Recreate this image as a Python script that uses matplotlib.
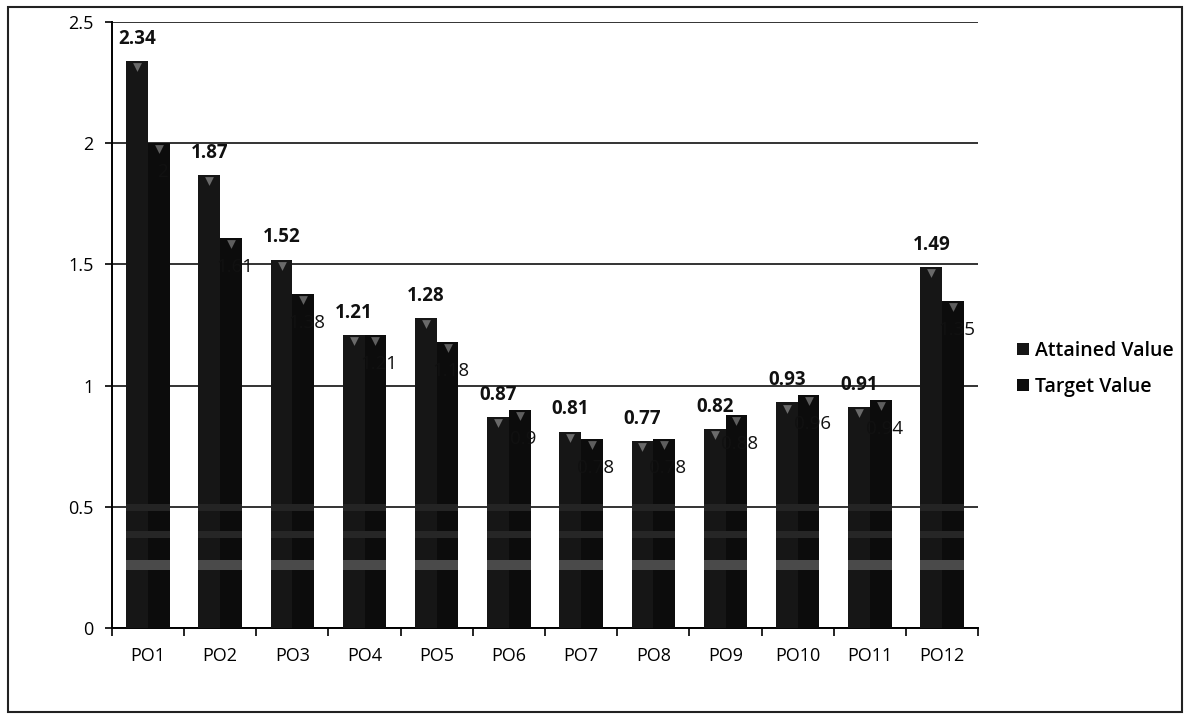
import numpy as np
import matplotlib.pyplot as plt
from matplotlib.patches import Rectangle

categories = ['PO1', 'PO2', 'PO3', 'PO4', 'PO5', 'PO6', 'PO7', 'PO8', 'PO9', 'PO10', 'PO11', 'PO12']
attained = [2.34, 1.87, 1.52, 1.21, 1.28, 0.87, 0.81, 0.77, 0.82, 0.93, 0.91, 1.49]
target = [2, 1.61, 1.38, 1.21, 1.18, 0.9, 0.78, 0.78, 0.88, 0.96, 0.94, 1.35]
target_labels = ['2', '1.61', '1.38', '1.21', '1.18', '0.9', '0.78', '0.78', '0.88', '0.96', '0.94', '1.35']

plt.rcParams['font.family'] = ['Open Sans', 'DejaVu Sans']

fig = plt.figure(figsize=(11.9, 7.19), dpi=100)
ax = fig.add_axes([0.094, 0.127, 0.728, 0.842])

x = np.arange(len(categories))
w = 0.30
bar_col = '#161616'

b1 = ax.bar(x - w / 2, attained, w, color=bar_col, label='Attained Value', zorder=3)
b2 = ax.bar(x + w / 2, target, w, color='#0c0c0c', label='Target Value', zorder=3)

# little light notch at each bar top, like the scanned 3d bars
ax.scatter(x - w / 2, np.array(attained) - 0.025, marker='v', s=40, color='#6a6a6a', zorder=4, linewidths=0)
ax.scatter(x + w / 2, np.array(target) - 0.025, marker='v', s=40, color='#5e5e5e', zorder=4, linewidths=0)

# faint light bands low in the bars
for bars in (b1, b2):
    for r in bars:
        ax.add_patch(Rectangle((r.get_x(), 0.24), r.get_width(), 0.04, color='#4a4a4a', zorder=4, lw=0))
        ax.add_patch(Rectangle((r.get_x(), 0.37), r.get_width(), 0.03, color='#262626', zorder=4, lw=0))
        ax.add_patch(Rectangle((r.get_x(), 0.48), r.get_width(), 0.03, color='#242424', zorder=4, lw=0))

for xi, v in zip(x, attained):
    ax.text(xi - w / 2, v + 0.05, f'{v:.2f}', ha='center', va='bottom',
            fontsize=13.5, fontweight='bold', color='#111111', zorder=5)
for xi, v, lab in zip(x, target, target_labels):
    ax.text(xi + w / 2 + 0.05, v - 0.12, lab, ha='center', va='center',
            fontsize=13.5, color='#111111', zorder=5)

ax.set_ylim(0, 2.5)
ax.set_xlim(-0.5, len(categories) - 0.5)
ax.set_yticks([0, 0.5, 1, 1.5, 2, 2.5])
ax.set_yticklabels(['0', '0.5', '1', '1.5', '2', '2.5'], fontsize=13)
ax.set_xticks(x)
ax.set_xticklabels(categories, fontsize=13)
ax.tick_params(axis='x', length=0, pad=14)
ax.tick_params(axis='y', length=5, direction='out', width=1.2, pad=8)
ax.set_xticks(np.arange(-0.5, len(categories), 1), minor=True)
ax.tick_params(axis='x', which='minor', length=6, width=1.2, direction='out')

ax.yaxis.grid(True, color='#111111', lw=1.2, zorder=0)
ax.set_axisbelow(True)
for s in ['top', 'right']:
    ax.spines[s].set_visible(False)
ax.spines['left'].set_linewidth(1.4)
ax.spines['bottom'].set_linewidth(1.4)

leg = fig.legend(handles=[b1, b2], loc='center left', bbox_to_anchor=(0.84, 0.487),
                 frameon=False, fontsize=14, handlelength=0.6, handleheight=0.6,
                 handletextpad=0.3, labelspacing=0.8)
for t in leg.get_texts():
    t.set_fontweight('semibold')

fig.patches.append(Rectangle((0.007, 0.01), 0.986, 0.98, transform=fig.transFigure,
                             fill=False, edgecolor='#222222', lw=1.5))

fig.savefig('out.png', dpi=100)
